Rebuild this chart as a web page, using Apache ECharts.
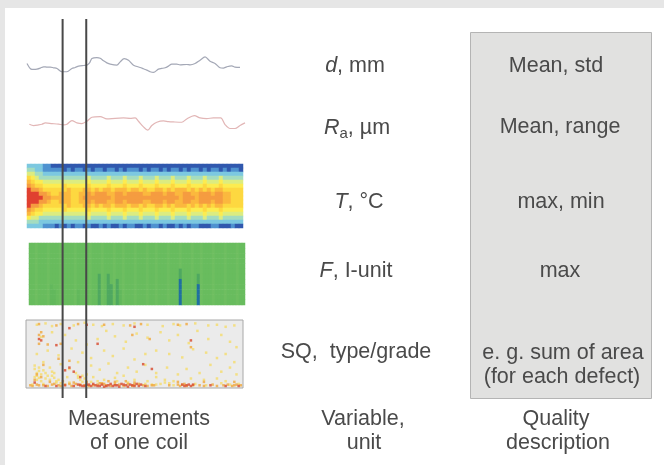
<!DOCTYPE html>
<html><head><meta charset="utf-8">
<script src="https://cdn.jsdelivr.net/npm/echarts@6/dist/echarts.min.js"></script>
<style>html,body{margin:0;padding:0;background:#fff}#c{width:664px;height:465px;filter:blur(0.7px)}</style>
</head><body><div id="c"></div>
<script>
// Position along the coil (shared by both profiles and the two section lines)
var dPos=[80,92,100,110,120,130,140,150,160,170,185,200,215,225,235,250,260,268,275,290,300,310,320,330,350,360,372,385,400,420,430,440,450,460,475,485,495,505,515,530,540,560,570,585,600,615,630,645,660,670,680,695,705,720];
var dValues=[50,33,32,33,36,40,39,39,37,35,25,25,35,38,42,44,45,52,65,68,66,58,52,48,45,55,65,60,45,38,34,30,25,23,33,35,37,42,48,48,46,47,46,50,60,70,57,50,37,36,40,43,39,38];
var raPos=[87,100,115,125,135,155,175,190,200,215,230,245,260,275,300,320,345,370,390,405,415,430,443,455,470,490,505,520,545,560,583,600,620,640,662,675,690,705,720,735];
var raValues=[66,62,64,66,70,68,66,64,66,77,70,68,75,87,89,82,84,85,84,85,75,58,48,62,72,76,74,73,72,82,92,85,83,85,85,65,53,53,62,70];
var sectionPos=[187,258];

// Temperature map, one digit per cell (0 coldest, 9 hottest), top row first
var tempRows=[
"222211000 000000000 000000000 000000000 000000000 000000000",
"332211111 010110101 101101011 101011010 110101101 011010110",
"443322222 222222222 222222222 222222222 222222222 222222222",
"654333333 333333433 334333433 343334333 433343334 333433333",
"765544444 444444544 445444544 454445444 544454445 444544444",
"876655555 655555655 556555655 565556555 655565556 555655555",
"988766666 676667767 677677767 767667767 677767676 767766666",
"999887667 776677878 887788788 887788878 877887788 878877666",
"999988777 776678888 888788888 888888888 887888788 888877666",
"999887667 776677878 887788788 887788878 877887788 878877666",
"988766666 676667767 677677767 767667767 677767676 767766666",
"876655555 655555655 556555655 565556555 655565556 555655555",
"765544444 444444544 445444544 454445444 544454445 444544444",
"544333333 333333433 334333433 343334333 433343334 333433333",
"333222222 222222222 222222222 222222222 222222222 222222222",
"222211101 010110100 101001011 001011010 010101100 011000100"
];
var tempColors=['#3058ae','#4f92d0','#7cc8e0','#a4dcc0','#dcec80','#fcec50','#fdd840','#fbb83e','#f59c40','#e04030'];

// Force map: background level of each column, then darker streaks [column, first row, level]
var forceBase="110111011101 111011110111 011101101110 111011011101 110111011011 101110111011";
var forceStreaks=[[7,8,2],[8,9,2],[16,9,2],[23,6,3],[26,6,3],[27,8,3],[29,7,3],[30,9,2],[50,5,3],[50,7,5],[56,6,3],[56,8,5]];
var forceColors=['#6ebe60','#68bc5e','#62b85c','#4fa860','#2e8c80','#1f6fa0'];
var forceRowCount=12;

// Surface quality defects, [position %, width %], by grade
var sqYellow=[[5,93],[9,95],[12,91],[16,94],[22,92],[27,96],[31,93],[35,91],[40,94],[45,92],[50,95],[56,93],[63,91],[68,94],[71,92],[78,95],[84,92],[88,93],[92,90],[96,92],
[7,75],[12,82],[18,78],[23,70],[28,64],[33,72],[37,84],[41,76],[46,68],[51,80],[56,74],[62,82],[66,70],[70,78],[75,66],[79,84],[84,72],[90,78],[94,68],[97,60],
[5,50],[10,55],[15,48],[21,58],[26,52],[30,44],[36,55],[40,47],[45,58],[50,42],[55,50],[60,55],[66,50],[72,45],[77,57],[83,52],[88,44],[92,50],[96,38],
[4,33],[6,25],[8,38],[11,30],[13,22],[16,35],[20,28],[24,38],[28,20],[30,33],[34,27],[38,36],[42,22],[47,30],[51,24],[55,34],[60,22],[65,30],[70,20],[74,28],[80,22],[85,34],[90,24],[94,30],[97,20],
[5,18],[9,14],[12,18],[15,12],[19,16],[24,18],[27,14],[31,16],[36,12],[41,15],[45,18],[50,12],[56,10],[60,16],[64,12],[68,10],[76,14],[82,12],[88,14],[92,10],
[3,5],[8,6],[14,8],[26,9],[33,10],[47,8],[55,6],[60,5],[64,8],[72,5],[78,6],[83,4],[90,7],[94,5],[98,6],
[4,28],[5,22],[6,30],[7,20],[8,26],[4,16],[5,12],[6,15],[7,10],[9,22],[10,18],[11,12],[12,24],[13,15],[14,10],[23,22],[24,15],[25,12],[26,18],[58,5],[62,6],[66,7],[68,4],[16,7],[20,8],[30,9],[42,10]];
var sqOrange=[[6,94],[14,92],[24,94],[36,93],[48,92],[53,94],[70,93],[74,94],[7,82],[6,78],[8,76],[16,65],[49,78],[57,72],[76,60],[6,65],[10,64],
[15,43],[20,40],[8,34],[5,20],[7,16],[4,12],[11,9],[17,10],[22,8],[28,9],[35,7],[38,10],[41,9],[46,10],[50,8],[70,9],[82,9],[96,9],[2,4],[6,4],[12,5],[16,3],[20,6],[25,5],[29,3],[33,5],[37,4],[41,6],[45,3],[50,5],[54,4],[59,4],[66,4],[70,5],[74,3],[80,4],[86,5],[91,4],[95,3],[97,5],
[3,3],[5,5],[8,4],[10,3],[13,6],[15,4],[18,5],[21,3],[23,6],[27,4],[31,4],[34,7],[36,6],[39,3],[43,5],[47,6],[49,3],[52,6],[56,3],[58,4],[71,3],[73,6],[77,4],[82,3],[88,3],[93,5],[96,4],[99,4]];
var sqRed=[[7,70],[6,72],[20,88],[28,93],[33,65],[50,90],[76,70],[14,63],[58,28],[54,35],[20,30],[18,26],[22,24],[25,16],[4,8],[9,3],[14,3],[18,4],[22,3],[24,5],[26,3],[28,5],[30,3],[31,6],[33,3],[35,5],[36,2],[38,4],[39,6],[40,3],[42,4],[43,2],[44,6],[46,4],[47,2],[48,5],[50,3],[51,6],[52,3],[53,5],[55,3],[72,5],[73,3],[75,5],[76,3],[85,4],[92,3],[98,3],
[32,4],[34,3],[37,3],[41,4],[45,5],[49,4],[29,5],[27,3],[25,4],[74,4],[77,5]];

// Text
var variableLabels=["{i|d}{n|, mm}","{i|R}{s|a}{n|, µm}","{i|T}{n|, °C}","{i|F}{n|, I-unit}","{n|SQ,  type/grade}"];
var qualityLabels=["Mean, std","Mean, range","max, min","max","e. g. sum of area","(for each defect)"];
var footerLabels=["Measurements","of one coil","Variable,","unit","Quality","description"];

var INK='#4a4a4a', FONT='"Liberation Sans",Arial,sans-serif', FS=21.5;
function txt(t,x,y){return {type:'text',z:5,x:x,y:y+1,style:{text:t,x:0,y:0,align:'center',verticalAlign:'middle',fill:INK,font:FS+'px '+FONT,
  rich:{i:{fontStyle:'italic',fontSize:FS,fontFamily:FONT,color:INK,lineHeight:26},n:{fontSize:FS,fontFamily:FONT,color:INK,lineHeight:26},s:{fontSize:15,fontFamily:FONT,color:INK,verticalAlign:'bottom',lineHeight:14}}}};}

var tempCells=[],forceCells=[];
var tempClean=tempRows.map(function(r){return r.replace(/ /g,'');});
tempClean.forEach(function(r,j){for(var i=0;i<r.length;i++)tempCells.push([i,j,+r[i]]);});
var base=forceBase.replace(/ /g,'');
for(var c=0;c<base.length;c++){for(var r=0;r<forceRowCount;r++){var v=+base[c];
  forceStreaks.forEach(function(s){if(s[0]===c&&r>=s[1])v=s[2];});forceCells.push([c,r,v]);}}
function idx(n){return Array.from({length:n},function(_,i){return i;});}

var grids=[
 {left:27,top:47,width:218,height:33},
 {left:27,top:113,width:218,height:33},
 {left:27,top:164,width:216,height:64},
 {left:29,top:243,width:216,height:62},
 {left:26,top:320,width:217,height:68,show:true,backgroundColor:'#ebebeb',borderColor:'#a8a8a8',borderWidth:1},
 {left:27,top:19,width:218,height:379}
];
var xAxes=[
 {type:'value',gridIndex:0,min:80,max:735,show:false},
 {type:'value',gridIndex:1,min:80,max:735,show:false},
 {type:'category',gridIndex:2,data:idx(tempClean[0].length),show:false},
 {type:'category',gridIndex:3,data:idx(base.length),show:false},
 {type:'value',gridIndex:4,min:0,max:100,show:false},
 {type:'value',gridIndex:5,min:80,max:735,show:false}
];
var yAxes=[
 {type:'value',gridIndex:0,min:0,max:100,show:false},
 {type:'value',gridIndex:1,min:0,max:100,show:false},
 {type:'category',gridIndex:2,data:idx(tempClean.length),inverse:true,show:false},
 {type:'category',gridIndex:3,data:idx(forceRowCount),inverse:true,show:false},
 {type:'value',gridIndex:4,min:0,max:100,show:false},
 {type:'value',gridIndex:5,min:0,max:1,show:false}
];
function zip(a,b){return a.map(function(v,i){return [v,b[i]];});}
function sq(d,col){return {type:'scatter',xAxisIndex:4,yAxisIndex:4,data:d,symbol:'rect',symbolSize:2.5,itemStyle:{color:col},silent:true};}
function section(p){return {type:'line',xAxisIndex:5,yAxisIndex:5,z:10,data:[[p,0],[p,1]],symbol:'none',lineStyle:{color:'#484848',width:2},silent:true};}
var chart=echarts.init(document.getElementById('c'));
chart.setOption({
 animation:false,backgroundColor:'#fff',
 grid:grids,xAxis:xAxes,yAxis:yAxes,
 visualMap:[
  {show:false,seriesIndex:2,min:0,max:9,inRange:{color:tempColors},dimension:2},
  {show:false,seriesIndex:3,min:0,max:5,inRange:{color:forceColors},dimension:2}
 ],
 series:[
  {type:'line',xAxisIndex:0,yAxisIndex:0,data:zip(dPos,dValues),symbol:'none',smooth:0.3,lineStyle:{color:'#a4a8b6',width:1.2},silent:true},
  {type:'line',xAxisIndex:1,yAxisIndex:1,data:zip(raPos,raValues),symbol:'none',smooth:0.3,lineStyle:{color:'#e2b6b6',width:1.2},silent:true},
  {type:'heatmap',xAxisIndex:2,yAxisIndex:2,data:tempCells,silent:true},
  {type:'heatmap',xAxisIndex:3,yAxisIndex:3,data:forceCells,silent:true},
  sq(sqYellow,'#f5dc6c'),sq(sqOrange,'#f0a83c'),sq(sqRed,'#d8482c'),
  section(sectionPos[0]),section(sectionPos[1])
 ],
 graphic:[
  {type:'rect',z:-1,shape:{x:0,y:0,width:664,height:8},style:{fill:'#e6e6e6'}},
  {type:'rect',z:-1,shape:{x:0,y:0,width:5,height:465},style:{fill:'#e6e6e6'}},
  {type:'rect',z:-1,shape:{x:470.5,y:32.5,width:181,height:366},style:{fill:'#e1e1e0',stroke:'#b4b4b4',lineWidth:1}},
  txt(variableLabels[0],355,65),txt(variableLabels[1],357,127),txt(variableLabels[2],359,201),txt(variableLabels[3],356,270),txt(variableLabels[4],356,351),
  txt(qualityLabels[0],556,65),txt(qualityLabels[1],560,126),txt(qualityLabels[2],561,201),txt(qualityLabels[3],560,270),txt(qualityLabels[4],563,352),txt(qualityLabels[5],562,376),
  txt(footerLabels[0],139,418),txt(footerLabels[1],139,442),txt(footerLabels[2],363,418),txt(footerLabels[3],364,442),txt(footerLabels[4],556,418),txt(footerLabels[5],558,442)
 ]
});
</script></body></html>
